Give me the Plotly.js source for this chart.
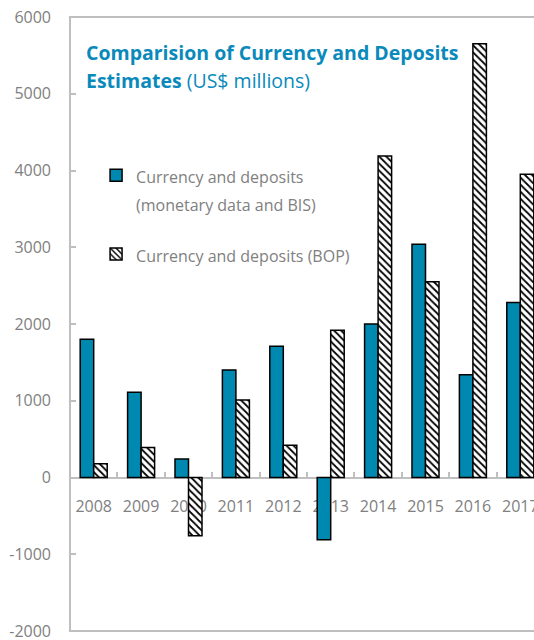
<!DOCTYPE html>
<html>
<head>
<meta charset="utf-8">
<script src="https://cdn.plot.ly/plotly-3.0.1.min.js"></script>
<style>
html,body{margin:0;padding:0;overflow:hidden;background:#fff;width:534px;height:640px;}
#chart{width:544px;height:640px;}
</style>
</head>
<body>
<div id="chart"></div>
<script>
const years = ['2008','2009','2010','2011','2012','2013','2014','2015','2016','2017'];
const monetaryBIS = [1800,1110,240,1400,1710,-810,2000,3040,1340,2280];
const bop = [180,390,-760,1010,420,1920,4190,2550,5650,3950];
const seriesNames = ['Currency and deposits<br>(monetary data and BIS)','Currency and deposits (BOP)'];
const titleLine1 = 'Comparision of Currency and Deposits';
const titleLine2Bold = 'Estimates';
const titleLine2Rest = ' (US$ millions)';
const yTicks = [-2000,-1000,0,1000,2000,3000,4000,5000,6000];

const gray = '#808080';
const axisGray = '#BFBFBF';
const blue = '#0089B0';
const titleBlue = '#0A8ABA';
const fontFam = '"Open Sans", "Noto Sans", sans-serif';

function small(s){ return s.split('<br>').map(p => '<span style="font-size:16px">'+p+'</span>').join('<br>'); }

const traces = [
  {
    type:'bar', x:years, y:monetaryBIS, name:small(seriesNames[0]),
    legendgroup:'a',
    marker:{color:blue, line:{color:'#000', width:1.5}},
    hoverinfo:'x+y'
  },
  {
    type:'bar', x:years, y:bop, name:small(seriesNames[1]),
    legendgroup:'b',
    marker:{color:'#fff', line:{color:'#000', width:1.5},
      pattern:{shape:'\\', fgcolor:'#000', bgcolor:'#fff', size:5, solidity:0.35}},
    hoverinfo:'x+y'
  }
];

const layout = {
  width:544, height:640,
  margin:{l:70, r:0, t:17, b:9, pad:0},
  paper_bgcolor:'#fff', plot_bgcolor:'#fff',
  font:{family:fontFam, color:gray, size:16},
  barmode:'group', bargap:0.43, bargroupgap:0,
  showlegend:true,
  legend:{x:0.055, y:0.775, xanchor:'left', yanchor:'top', bgcolor:'rgba(0,0,0,0)',
    font:{size:21, color:gray, family:fontFam}, traceorder:'grouped', tracegroupgap:21, valign:'top'},
  xaxis:{type:'category', range:[-0.5,9.5], anchor:'free', position:0.25,
    showline:true, linecolor:axisGray, linewidth:2, ticks:'inside', tickson:'boundaries',
    ticklen:5, tickwidth:2, tickcolor:axisGray, showgrid:false, zeroline:false,
    layer:'below traces', ticklabelstandoff:14, ticklabeloverflow:'allow',
    tickfont:{size:16, color:gray, family:fontFam}},
  yaxis:{range:[-2000,6000], tickvals:yTicks, ticktext:yTicks.map(String),
    ticks:'inside', ticklen:6, tickwidth:2, tickcolor:axisGray,
    showline:false, showgrid:false, zeroline:false, ticklabelstandoff:18,
    ticklabeloverflow:'allow',
    tickfont:{size:16, color:gray, family:fontFam}},
  shapes:[{type:'rect', xref:'paper', yref:'paper', x0:0, x1:1, y0:0, y1:1,
    line:{color:axisGray, width:2}, fillcolor:'rgba(0,0,0,0)', layer:'below'}],
  annotations:[
    {xref:'paper', yref:'paper', x:0.03, y:1, xanchor:'left', yanchor:'top', yshift:-20,
     showarrow:false, align:'left', text:'<b>'+titleLine1+'</b>',
     font:{size:19.5, color:titleBlue, family:fontFam}},
    {xref:'paper', yref:'paper', x:0.03, y:1, xanchor:'left', yanchor:'top', yshift:-48,
     showarrow:false, align:'left', text:'<b>'+titleLine2Bold+'</b>'+titleLine2Rest,
     font:{size:19.5, color:titleBlue, family:fontFam}}
  ]
};

Plotly.newPlot('chart', traces, layout, {displayModeBar:false, staticPlot:true});
</script>
</body>
</html>
